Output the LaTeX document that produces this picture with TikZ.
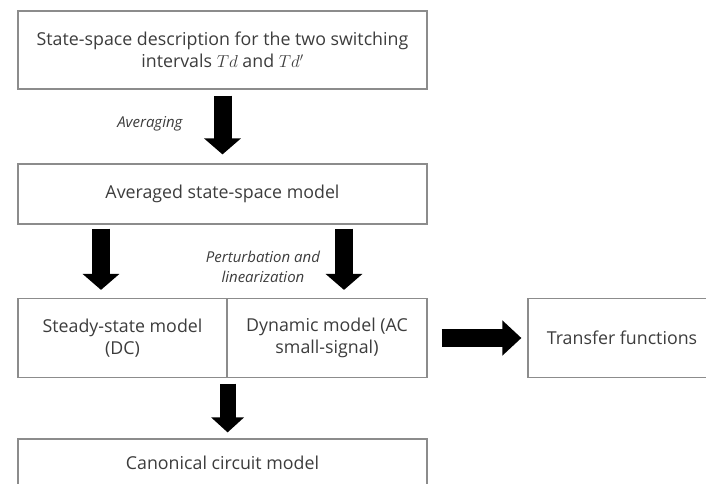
\documentclass[tikz,border=0pt]{standalone}
\usepackage{fontspec}
\setmainfont{Open Sans}
\usepackage{tikz}
\usetikzlibrary{arrows.meta}
\definecolor{boxgray}{RGB}{140,140,140}
\definecolor{textgray}{RGB}{60,60,60}
\tikzset{%
    step label/.style={%
        draw=none, inner sep=0pt, text=textgray, align=center,
        font=\fontsize{15}{20}\selectfont\itshape
    }
}

\begin{document}
\begin{tikzpicture}[->,>={Triangle[width=36pt,length=16pt]},node distance=144pt,
  main node/.style={rectangle,draw=boxgray,line width=1.2pt,text=textgray,
    align=center,inner sep=0pt,font=\fontsize{17.8}{22}\selectfont}]
  \useasboundingbox (0,0) rectangle (706pt,-483pt);

  \node[main node,minimum width=409pt,minimum height=78pt] (1) at (222.5pt,-50pt)
    {State-space description for the two switching\\intervals $Td$ and $Td'$};
  \node[main node,minimum width=409pt,minimum height=60pt] (2) [below of=1]
    {Averaged state-space model};
  \node[main node,minimum width=209pt,minimum height=79pt] (3) [below of=2,xshift=-100pt]
    {Steady-state model\\(DC)};
  \node[main node,minimum width=200pt,minimum height=79pt] (4) [right of=3,node distance=204.5pt]
    {Dynamic model (AC\\small-signal)};
  \node[main node,minimum width=188pt,minimum height=79pt] (5) [right of=4,node distance=295pt]
    {Transfer functions};
  \node[main node,minimum width=409pt,minimum height=48pt] (6) [below of=3,node distance=125pt,xshift=100pt]
    {Canonical circuit model};

  \coordinate (3a) at ([xshift=-21.5pt]3.north);
  \coordinate (4a) at ([xshift=17pt]4.north);

  \path[line width=18pt]
    (1) edge[shorten <=6pt,shorten >=9pt] node[step label,left=31pt,yshift=3pt] {Averaging} (2)
    (3a |- 2.south) edge[shorten <=4pt,shorten >=8pt] (3a)
    (4a |- 2.south) edge[shorten <=4pt,shorten >=8pt] node[step label,left=15pt,yshift=-6pt] {Perturbation and\\linearization} (4a)
    (4) edge[shorten <=14pt,shorten >=6pt,>={Triangle[width=34pt,length=19pt]}] (5);
  \path[line width=16pt,>={Triangle[width=32pt,length=15pt]}]
    (3.south east) edge[shorten <=5.5pt,shorten >=6pt] (3.south east |- 6.north);
\end{tikzpicture}
\end{document}
